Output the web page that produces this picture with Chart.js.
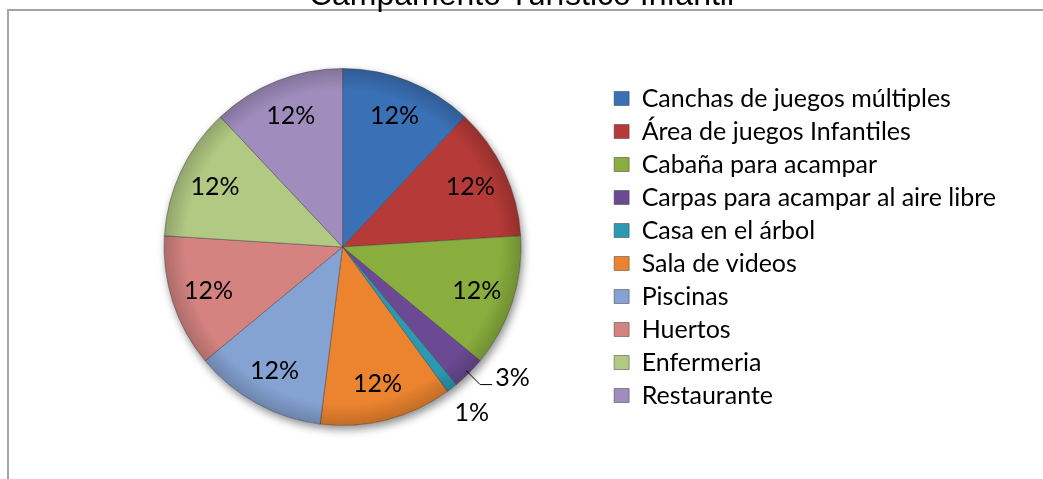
<!DOCTYPE html>
<html lang="es">
<head>
  <meta charset="UTF-8">
  <title>Campamento Turístico Infantil</title>
  <script src="https://cdn.jsdelivr.net/npm/chart.js"></script>
  <style>
    body { margin: 0; background: #fff; }
    #wrap { position: relative; width: 1043px; height: 479px; overflow: hidden; }
    #marco { position: absolute; left: 7px; top: 9px; right: -10px; bottom: -10px;
      border-top: 2px solid #a5a5a5; border-left: 2px solid #a5a5a5; }
    #titulo { position: absolute; left: 0; top: -22px; width: 1043px; text-align: center;
      font-family: "Liberation Sans", Arial, sans-serif; font-size: 32px; line-height: 32px; color: #000; }
    #grafico { position: absolute; left: 0; top: 0; width: 1043px; height: 479px; }
  </style>
</head>
<body>
<div id="wrap">
  <div id="marco"></div>
  <div id="grafico"><canvas id="chartPie"></canvas></div>
  <div id="titulo">Campamento Turístico Infantil</div>
</div>

<script>
// datos del grafico
const categorias = [
  "Canchas de juegos múltiples",
  "Área de juegos Infantiles",
  "Cabaña para acampar",
  "Carpas para acampar al aire libre",
  "Casa en el árbol",
  "Sala de videos",
  "Piscinas",
  "Huertos",
  "Enfermeria",
  "Restaurante"
];
const valores = [12, 12, 12, 3, 1, 12, 12, 12, 12, 12];
const colores = ["#3a70b5", "#b63a37", "#8aae3e", "#6b4a93", "#2c99b2",
                 "#ec842f", "#84a2d2", "#d48381", "#b1c983", "#a08dbd"];

const FUENTE = "Lato, 'Open Sans', sans-serif";

// sombra debajo del pastel
const sombraPlugin = {
  id: 'sombra',
  beforeDatasetsDraw(chart) {
    const arc = chart.getDatasetMeta(0).data[0];
    if (!arc) return;
    const p = arc.getProps(['x', 'y', 'outerRadius'], true);
    const ctx = chart.ctx;
    ctx.save();
    ctx.shadowColor = 'rgba(0,0,0,0.45)';
    ctx.shadowBlur = 9;
    ctx.shadowOffsetX = 2;
    ctx.shadowOffsetY = 4;
    ctx.fillStyle = '#fff';
    ctx.beginPath();
    ctx.arc(p.x, p.y, p.outerRadius, 0, Math.PI * 2);
    ctx.fill();
    ctx.restore();
  }
};

// etiquetas de porcentaje
const etiquetasPlugin = {
  id: 'etiquetas',
  afterDatasetsDraw(chart) {
    const ctx = chart.ctx;
    const meta = chart.getDatasetMeta(0);
    const total = valores.reduce((a, b) => a + b, 0);
    ctx.save();
    // borde oscuro del pastel (efecto bisel)
    const a0 = meta.data[0].getProps(['x', 'y', 'outerRadius'], true);
    const g = ctx.createRadialGradient(a0.x, a0.y, a0.outerRadius * 0.88, a0.x, a0.y, a0.outerRadius);
    g.addColorStop(0, 'rgba(0,0,0,0)');
    g.addColorStop(1, 'rgba(0,0,0,0.18)');
    ctx.fillStyle = g;
    ctx.beginPath();
    ctx.arc(a0.x, a0.y, a0.outerRadius, 0, Math.PI * 2);
    ctx.fill();

    ctx.font = '25px ' + FUENTE;
    ctx.fillStyle = '#000';
    ctx.strokeStyle = '#000';
    ctx.lineWidth = 1;
    meta.data.forEach((arc, i) => {
      const p = arc.getProps(['x', 'y', 'startAngle', 'endAngle', 'outerRadius'], true);
      const mid = (p.startAngle + p.endAngle) / 2;
      const c = Math.cos(mid), s = Math.sin(mid);
      const r = p.outerRadius;
      const txt = Math.round(valores[i] / total * 100) + '%';
      if (valores[i] / total >= 0.05) {
        ctx.textAlign = 'center';
        ctx.textBaseline = 'middle';
        ctx.fillText(txt, p.x + c * r * 0.79, p.y + s * r * 0.79);
      } else if (i === 3) {
        const ex = p.x + c * r * 1.09, ey = p.y + s * r * 1.09;
        ctx.beginPath();
        ctx.moveTo(p.x + c * r * 0.98, p.y + s * r * 0.98);
        ctx.lineTo(ex, ey);
        ctx.lineTo(ex + 12, ey);
        ctx.stroke();
        ctx.textAlign = 'left';
        ctx.textBaseline = 'alphabetic';
        ctx.fillText(txt, ex + 15, ey + 1);
      } else {
        ctx.textAlign = 'center';
        ctx.textBaseline = 'middle';
        ctx.fillText(txt, p.x + c * r * 1.18, p.y + s * r * 1.18);
      }
    });
    ctx.restore();
  }
};

new Chart(document.getElementById('chartPie'), {
  type: 'pie',
  data: {
    labels: categorias,
    datasets: [{
      data: valores,
      backgroundColor: colores,
      borderColor: 'rgba(60,60,60,0.45)',
      borderWidth: 1
    }]
  },
  options: {
    responsive: true,
    maintainAspectRatio: false,
    animation: false,
    layout: { padding: { left: 79, top: 68, bottom: 53, right: 37 } },
    plugins: {
      title: { display: false },
      tooltip: { enabled: false },
      legend: {
        position: 'right',
        labels: {
          boxWidth: 15,
          boxHeight: 14,
          padding: 8,
          color: '#000',
          font: { family: FUENTE, size: 25 },
          generateLabels(chart) {
            return categorias.map((t, i) => ({
              text: t,
              fillStyle: colores[i],
              strokeStyle: 'rgba(60,60,60,0.5)',
              lineWidth: 1,
              hidden: false,
              index: i
            }));
          }
        }
      }
    }
  },
  plugins: [sombraPlugin, etiquetasPlugin]
});
</script>
</body>
</html>
